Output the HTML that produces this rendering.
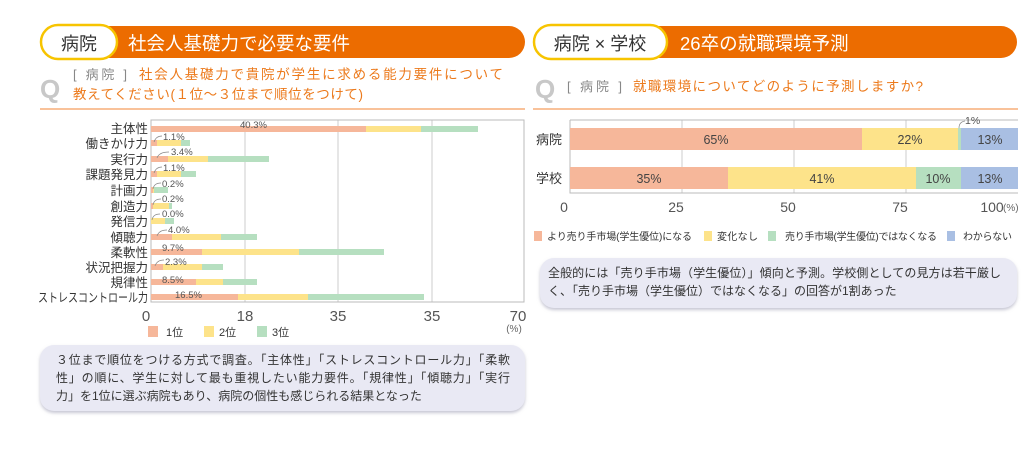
<!DOCTYPE html>
<html><head><meta charset="utf-8"><style>
html,body{margin:0;padding:0;background:#fff;width:1024px;height:475px;overflow:hidden}
svg{display:block;font-family:"Liberation Sans","Noto Sans CJK JP",sans-serif}
</style></head><body>
<svg width="1024" height="475" viewBox="0 0 1024 475" xmlns="http://www.w3.org/2000/svg">
<defs>
<filter id="sh" x="-5%" y="-10%" width="110%" height="130%"><feDropShadow dx="0" dy="2" stdDeviation="1.5" flood-color="#b8b8c8" flood-opacity="0.8"/></filter>
</defs>
<!-- LEFT HEADER -->
<rect x="40" y="26" width="485" height="32" rx="16" fill="#ec6c00"/>
<rect x="41" y="25" width="76" height="34" rx="17" fill="#fff" stroke="#f7c400" stroke-width="2.5"/>
<text x="79" y="50" font-size="18" text-anchor="middle" fill="#333">病院</text>
<text x="128" y="50" font-size="18.5" fill="#fff">社会人基礎力で必要な要件</text>
<text x="40" y="98" font-size="26" font-weight="bold" fill="#c8c8c8">Q</text>
<text x="73" y="79" font-size="13" fill="#888" textLength="54">[ 病院 ]</text>
<text x="139" y="79" font-size="13.5" fill="#ec7a1c" textLength="364">社会人基礎力で貴院が学生に求める能力要件について</text>
<text x="73" y="99" font-size="13.5" fill="#ec7a1c" textLength="290">教えてください(１位～３位まで順位をつけて)</text>
<rect x="40" y="108" width="485" height="2" fill="#f9c29a"/>

<!-- LEFT CHART -->
<g stroke="#ccc" stroke-width="1"><line x1="245" y1="120" x2="245" y2="302"/><line x1="338" y1="120" x2="338" y2="302"/><line x1="432" y1="120" x2="432" y2="302"/></g>
<rect x="151" y="120" width="373" height="182" fill="none" stroke="#bbb"/>
<g font-size="12.5" fill="#333" text-anchor="end">
<text x="148" y="133">主体性</text><text x="148" y="148">働きかけ力</text><text x="148" y="164">実行力</text><text x="148" y="179">課題発見力</text><text x="148" y="195">計画力</text><text x="148" y="211">創造力</text><text x="148" y="226">発信力</text><text x="148" y="242">傾聴力</text><text x="148" y="257">柔軟性</text><text x="148" y="272">状況把握力</text><text x="148" y="287">規律性</text><text x="148" y="302" textLength="110" lengthAdjust="spacingAndGlyphs">ストレスコントロール力</text>
</g>
<g>
<rect x="151" y="126" width="215" height="6" fill="#f6b79a"/><rect x="366" y="126" width="55" height="6" fill="#fde38a"/><rect x="421" y="126" width="57" height="6" fill="#b6dfc0"/>
<rect x="151" y="140" width="6" height="6" fill="#f6b79a"/><rect x="157" y="140" width="24" height="6" fill="#fde38a"/><rect x="181" y="140" width="9" height="6" fill="#b6dfc0"/>
<rect x="151" y="156" width="17" height="6" fill="#f6b79a"/><rect x="168" y="156" width="40" height="6" fill="#fde38a"/><rect x="208" y="156" width="61" height="6" fill="#b6dfc0"/>
<rect x="151" y="171" width="6" height="6" fill="#f6b79a"/><rect x="157" y="171" width="24" height="6" fill="#fde38a"/><rect x="181" y="171" width="15" height="6" fill="#b6dfc0"/>
<rect x="151" y="187" width="2" height="6" fill="#f6b79a"/><rect x="153" y="187" width="1" height="6" fill="#fde38a"/><rect x="154" y="187" width="14" height="6" fill="#b6dfc0"/>
<rect x="151" y="203" width="2" height="6" fill="#f6b79a"/><rect x="153" y="203" width="16" height="6" fill="#fde38a"/><rect x="169" y="203" width="3" height="6" fill="#b6dfc0"/>
<rect x="151" y="218" width="14" height="6" fill="#fde38a"/><rect x="165" y="218" width="9" height="6" fill="#b6dfc0"/>
<rect x="151" y="234" width="21" height="6" fill="#f6b79a"/><rect x="172" y="234" width="49" height="6" fill="#fde38a"/><rect x="221" y="234" width="36" height="6" fill="#b6dfc0"/>
<rect x="151" y="249" width="51" height="6" fill="#f6b79a"/><rect x="202" y="249" width="97" height="6" fill="#fde38a"/><rect x="299" y="249" width="85" height="6" fill="#b6dfc0"/>
<rect x="151" y="264" width="12" height="6" fill="#f6b79a"/><rect x="163" y="264" width="39" height="6" fill="#fde38a"/><rect x="202" y="264" width="21" height="6" fill="#b6dfc0"/>
<rect x="151" y="279" width="45" height="6" fill="#f6b79a"/><rect x="196" y="279" width="27" height="6" fill="#fde38a"/><rect x="223" y="279" width="34" height="6" fill="#b6dfc0"/>
<rect x="151" y="294" width="87" height="6" fill="#f6b79a"/><rect x="238" y="294" width="70" height="6" fill="#fde38a"/><rect x="308" y="294" width="116" height="6" fill="#b6dfc0"/>
</g>
<g font-size="9.5" fill="#555">
<text x="240" y="128">40.3%</text>
<text x="163" y="140">1.1%</text><text x="171" y="155">3.4%</text><text x="163" y="171">1.1%</text><text x="162" y="187">0.2%</text><text x="162" y="202">0.2%</text><text x="162" y="217">0.0%</text><text x="168" y="233">4.0%</text><text x="162" y="251">9.7%</text><text x="165" y="265">2.3%</text><text x="162" y="283">8.5%</text><text x="175" y="298">16.5%</text>
</g>
<g stroke="#888" fill="none" stroke-width="0.7">
<path d="M154,142 q2,-6 8,-6"/><path d="M157,158 q2,-6 12,-6"/><path d="M154,173 q2,-6 8,-6"/><path d="M153,189 q1,-6 8,-6"/><path d="M153,205 q1,-6 8,-6"/><path d="M152,220 q1,-6 8,-6"/><path d="M157,236 q2,-6 10,-6"/><path d="M155,266 q2,-6 9,-6"/>
</g>
<g font-size="15" fill="#555" text-anchor="middle">
<text x="146" y="321">0</text><text x="245" y="321">18</text><text x="338" y="321">35</text><text x="432" y="321">35</text><text x="518" y="321">70</text>
</g>
<text x="514" y="332" font-size="10" fill="#666" text-anchor="middle">(%)</text>
<rect x="148" y="326" width="10" height="11" fill="#f6b79a"/><text x="166" y="336" font-size="11" fill="#333">1位</text>
<rect x="204" y="326" width="10" height="11" fill="#fde38a"/><text x="219" y="336" font-size="11" fill="#333">2位</text>
<rect x="257" y="326" width="10" height="11" fill="#b6dfc0"/><text x="272" y="336" font-size="11" fill="#333">3位</text>

<rect x="40" y="345" width="485" height="66" rx="14" fill="#e9e9f4" filter="url(#sh)"/>
<g font-size="12" fill="#333">
<text x="56" y="364" textLength="454">３位まで順位をつける方式で調査。「主体性」「ストレスコントロール力」「柔軟</text>
<text x="56" y="382" textLength="454">性」の順に、学生に対して最も重視したい能力要件。「規律性」「傾聴力」「実行</text>
<text x="56" y="400">力」を1位に選ぶ病院もあり、病院の個性も感じられる結果となった</text>
</g>

<!-- RIGHT HEADER -->
<rect x="533" y="26" width="484" height="32" rx="16" fill="#ec6c00"/>
<rect x="534" y="25" width="133" height="34" rx="17" fill="#fff" stroke="#f7c400" stroke-width="2.5"/>
<text x="600" y="50" font-size="18" text-anchor="middle" fill="#333">病院 × 学校</text>
<text x="680" y="50" font-size="18.5" fill="#fff">26卒の就職環境予測</text>
<text x="535" y="98" font-size="26" font-weight="bold" fill="#c8c8c8">Q</text>
<text x="567" y="91" font-size="13" fill="#888" textLength="55">[ 病院 ]</text>
<text x="633" y="91" font-size="13.5" fill="#ec7a1c" textLength="290">就職環境についてどのように予測しますか?</text>
<rect x="533" y="108" width="485" height="2" fill="#f9c29a"/>

<!-- RIGHT CHART -->
<g stroke="#ccc"><line x1="682" y1="120" x2="682" y2="193"/><line x1="794" y1="120" x2="794" y2="193"/><line x1="906" y1="120" x2="906" y2="193"/></g>
<path d="M570,120 V193 H1018" fill="none" stroke="#bbb"/>
<line x1="570" y1="120" x2="1018" y2="120" stroke="#bbb"/>
<rect x="570" y="128" width="292" height="22" fill="#f6b79a"/><rect x="862" y="128" width="96" height="22" fill="#fde38a"/><rect x="958" y="128" width="3" height="22" fill="#b6dfc0"/><rect x="961" y="128" width="57" height="22" fill="#a9bfe3"/>
<rect x="570" y="167" width="158" height="22" fill="#f6b79a"/><rect x="728" y="167" width="188" height="22" fill="#fde38a"/><rect x="916" y="167" width="45" height="22" fill="#b6dfc0"/><rect x="961" y="167" width="57" height="22" fill="#a9bfe3"/>
<g font-size="12.5" fill="#444" text-anchor="middle">
<text x="716" y="144">65%</text><text x="910" y="144">22%</text><text x="990" y="144">13%</text>
<text x="649" y="183">35%</text><text x="822" y="183">41%</text><text x="938" y="183">10%</text><text x="990" y="183">13%</text>
</g>
<text x="965" y="124" font-size="10.5" fill="#555">1%</text>
<path d="M959,128 q0,-6 6,-7" fill="none" stroke="#888" stroke-width="0.7"/>
<g font-size="13" fill="#333"><text x="536" y="144">病院</text><text x="536" y="183">学校</text></g>
<g font-size="14" fill="#555" text-anchor="middle"><text x="564" y="212">0</text><text x="676" y="212">25</text><text x="788" y="212">50</text><text x="900" y="212">75</text><text x="992" y="212">100</text></g>
<text x="1003" y="211" font-size="10" fill="#666">(%)</text>
<g font-size="10" fill="#333">
<rect x="534" y="231" width="8" height="10" fill="#f6b79a"/><text x="547" y="240" textLength="145">より売り手市場(学生優位)になる</text>
<rect x="704" y="231" width="8" height="10" fill="#fde38a"/><text x="717" y="240" textLength="41">変化なし</text>
<rect x="768" y="231" width="8" height="10" fill="#b6dfc0"/><text x="785" y="240" textLength="152">売り手市場(学生優位)ではなくなる</text>
<rect x="947" y="231" width="8" height="10" fill="#a9bfe3"/><text x="963" y="240" textLength="49">わからない</text>
</g>
<rect x="540" y="258" width="477" height="50" rx="14" fill="#e9e9f4" filter="url(#sh)"/>
<g font-size="12" fill="#333">
<text x="548" y="277" textLength="453">全般的には「売り手市場（学生優位）」傾向と予測。学校側としての見方は若干厳し</text>
<text x="548" y="295">く、「売り手市場（学生優位）ではなくなる」の回答が1割あった</text>
</g>
</svg>
</body></html>
